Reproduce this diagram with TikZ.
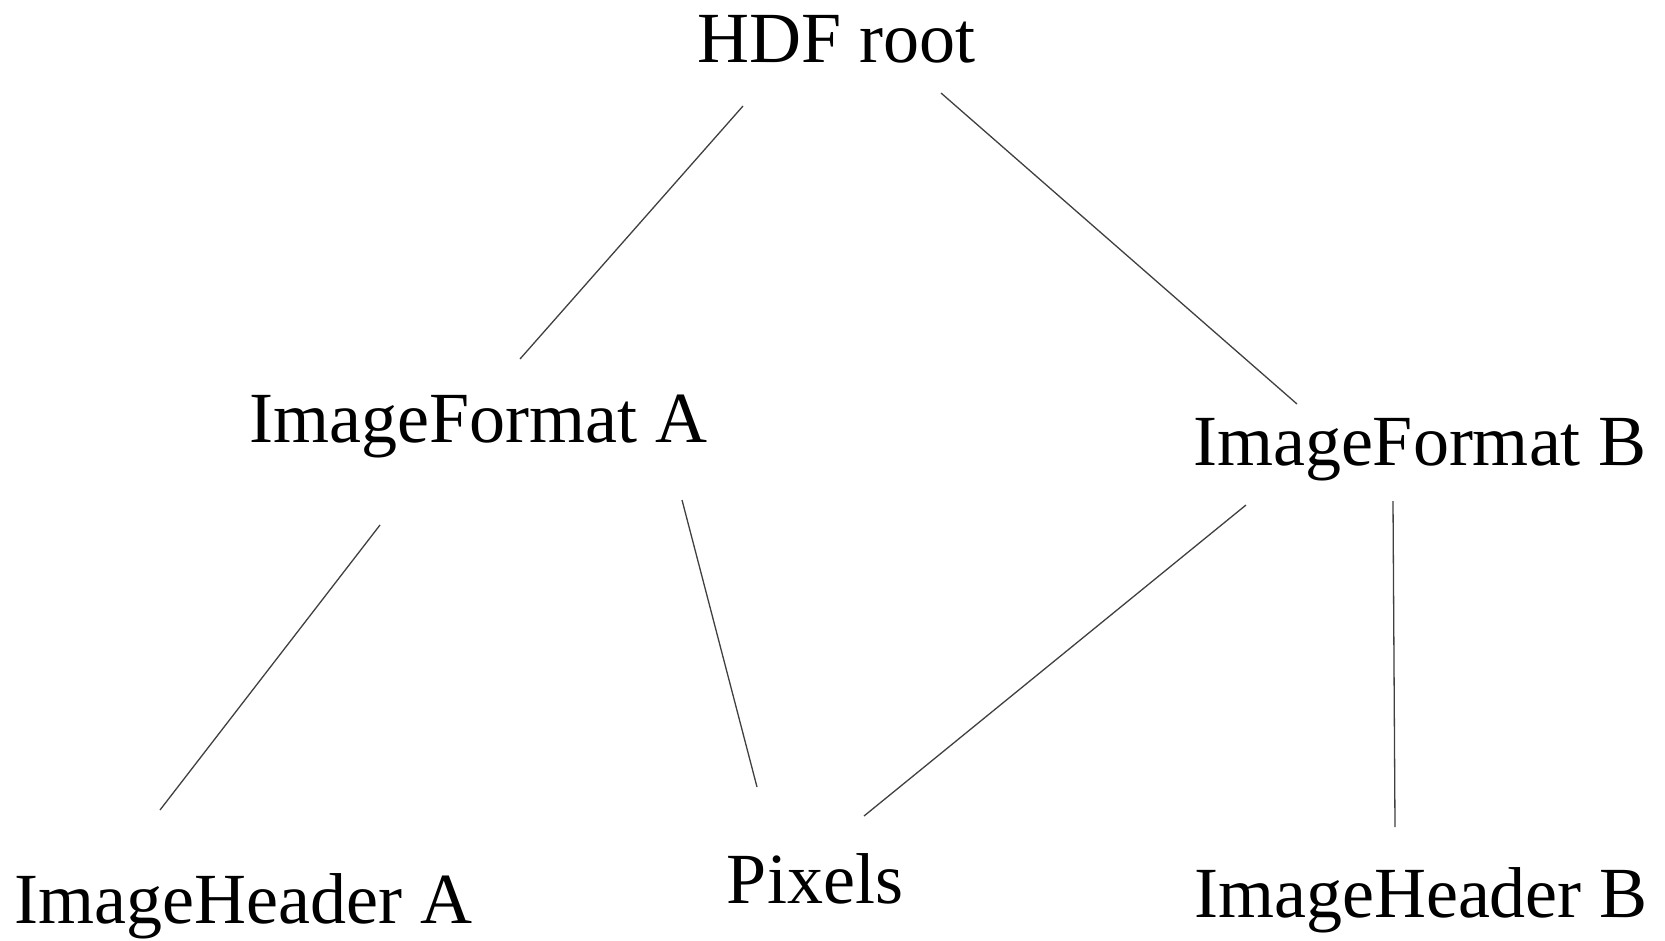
\documentclass[tikz,border=0pt]{standalone}
\usepackage{fontspec}
\setmainfont{Liberation Serif}
\begin{document}
\begin{tikzpicture}[x=1pt,y=-1pt,
  label/.style={anchor=base,inner sep=0pt,font=\fontsize{72}{80}\selectfont},
  link/.style={draw=black!75,line width=1.3pt}]
\useasboundingbox[fill=white] (0,0) rectangle (1665,940);
% tree nodes (placed by baseline)
\node[label] (root) at (836.5,62)  {HDF root};
\node[label] (fa)   at (478.5,442) {ImageFormat A};
\node[label] (fb)   at (1420,465)  {ImageFormat B};
\node[label] (ha)   at (243.5,923) {ImageHeader A};
\node[label] (px)   at (815,903)   {Pixels};
\node[label] (hb)   at (1421,917)  {ImageHeader B};
% connectors
\draw[link] ([shift={(-93.5,44)}]root.base) -- ([shift={(41.5,-83)}]fa.base);
\draw[link] ([shift={(104.5,31)}]root.base) -- ([shift={(-123,-61)}]fb.base);
\draw[link] ([shift={(-98.5,83)}]fa.base) -- ([shift={(-83.5,-113)}]ha.base);
\draw[link] ([shift={(203.5,58)}]fa.base) -- ([shift={(-58,-116)}]px.base);
\draw[link] ([shift={(-174,40)}]fb.base) -- ([shift={(49,-87)}]px.base);
\draw[link] ([shift={(-27,36)}]fb.base) -- ([shift={(-26,-90)}]hb.base);
\end{tikzpicture}
\end{document}
